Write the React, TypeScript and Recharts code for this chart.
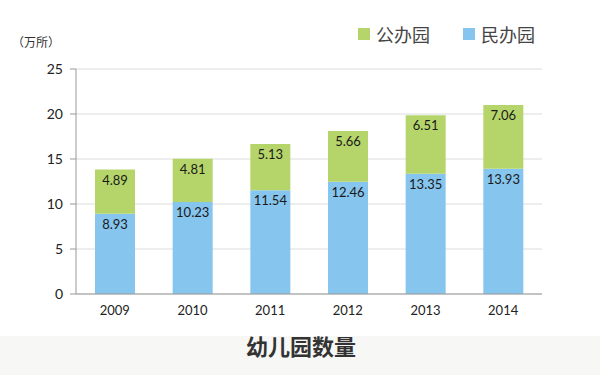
import React from "react";
import {
  BarChart,
  Bar,
  XAxis,
  YAxis,
  CartesianGrid,
  LabelList
} from "recharts";

const years = ["2009", "2010", "2011", "2012", "2013", "2014"];
const privateKg = [8.93, 10.23, 11.54, 12.46, 13.35, 13.93];
const publicKg = [4.89, 4.81, 5.13, 5.66, 6.51, 7.06];
const yTicks = [0, 5, 10, 15, 20, 25];

const GREEN = "#b5d56b";
const BLUE = "#86c5ee";
const NUM_FONT = "Lato, 'Noto Sans', sans-serif";
const CJK_FONT = "'Noto Sans CJK SC', sans-serif";

const data = years.map((y, i) => ({
  year: y,
  private: privateKg[i],
  public: publicKg[i]
}));

const legendItems = [
  { name: "公办园", color: GREEN },
  { name: "民办园", color: BLUE }
];

const LegendBox = () => (
  <div
    style={{
      position: "absolute",
      left: 358,
      top: 24,
      display: "flex",
      fontFamily: CJK_FONT,
      fontSize: 18,
      color: "#444"
    }}
  >
    {legendItems.map((it, i) => (
      <div key={it.name} style={{ display: "flex", alignItems: "center", marginLeft: i === 0 ? 0 : 33 }}>
        <span
          style={{ width: 12, height: 12, background: it.color, display: "inline-block", marginRight: 6 }}
        />
        <span style={{ lineHeight: "20px" }}>{it.name}</span>
      </div>
    ))}
  </div>
);

export default function App() {
  return (
    <div
      style={{
        position: "absolute",
        left: 0,
        top: 0,
        width: 600,
        height: 375,
        background: "#fff",
        overflow: "hidden"
      }}
    >
      <div
        style={{
          position: "absolute",
          left: 0,
          top: 336,
          width: 600,
          height: 39,
          background: "#f7f7f5"
        }}
      />
      <div
        style={{
          position: "absolute",
          left: 12,
          top: 33,
          fontFamily: CJK_FONT,
          fontSize: 12,
          color: "#333"
        }}
      >
        （万所）
      </div>
      <div
        style={{
          position: "absolute",
          left: 0,
          width: 602,
          top: 329,
          textAlign: "center",
          fontFamily: CJK_FONT,
          fontSize: 22,
          fontWeight: 700,
          color: "#333"
        }}
      >
        幼儿园数量
      </div>
      <LegendBox />
      <div style={{ position: "absolute", left: 0, top: 0 }}>
        <BarChart
          width={600}
          height={375}
          data={data}
          margin={{ top: 69, right: 58, bottom: 51, left: 0 }}
        >
          <CartesianGrid vertical={false} stroke="#dcdcdc" />
          <XAxis
            dataKey="year"
            axisLine={{ stroke: "#999" }}
            tickLine={false}
            tick={{ fontSize: 13, fill: "#222", fontFamily: NUM_FONT }}
            tickMargin={6}
            height={30}
          />
          <YAxis
            domain={[0, 25]}
            ticks={yTicks}
            width={76}
            axisLine={{ stroke: "#999" }}
            tickLine={{ stroke: "#999" }}
            tickSize={6}
            tickMargin={7}
            tick={{ fontSize: 14, fill: "#222", fontFamily: NUM_FONT }}
          />
          <Bar dataKey="private" stackId="a" fill={BLUE} barSize={40} isAnimationActive={false}>
            <LabelList
              dataKey="private"
              position="insideTop"
              offset={6}
              style={{ fontSize: 13, fill: "#1a1a1a", fontFamily: NUM_FONT }}
            />
          </Bar>
          <Bar dataKey="public" stackId="a" fill={GREEN} barSize={40} isAnimationActive={false}>
            <LabelList
              dataKey="public"
              position="insideTop"
              offset={6}
              style={{ fontSize: 13, fill: "#1a1a1a", fontFamily: NUM_FONT }}
            />
          </Bar>
        </BarChart>
      </div>
    </div>
  );
}
